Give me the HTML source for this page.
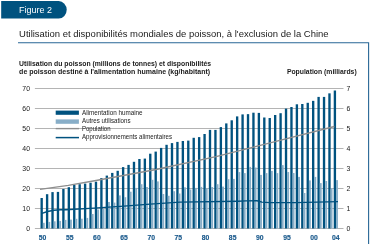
<!DOCTYPE html><html><head><meta charset="utf-8"><style>html,body{margin:0;padding:0;background:#fff;}svg{display:block;will-change:transform;}text{font-family:"Liberation Sans",sans-serif;}</style></head><body>
<svg width="372" height="244" viewBox="0 0 372 244">
<path d="M1.2 1.1 H58.7 A8.0 8.7 0 0 1 66.7 9.8 A8.0 8.7 0 0 1 58.7 18.5 H1.2 Z" fill="#00527f"/>
<text x="19.1" y="12.75" font-size="9" fill="#fff" textLength="33" lengthAdjust="spacingAndGlyphs">Figure 2</text>
<text x="19.1" y="36.8" font-size="9" fill="#1a1a1a" textLength="309.5" lengthAdjust="spacingAndGlyphs">Utilisation et disponibilités mondiales de poisson, à l'exclusion de la Chine</text>
<path d="M18 42.8 H368.6 V244" fill="none" stroke="#286796" stroke-width="1.1"/>
<text x="19.1" y="66.2" font-size="6.7" font-weight="bold" fill="#1a1a1a" textLength="192" lengthAdjust="spacingAndGlyphs">Utilisation du poisson (millions de tonnes) et disponibilités</text>
<text x="19.1" y="73.6" font-size="6.7" font-weight="bold" fill="#1a1a1a" textLength="191" lengthAdjust="spacingAndGlyphs">de poisson destiné à l'alimentation humaine (kg/habitant)</text>
<text x="286.9" y="74" font-size="6.7" font-weight="bold" fill="#1a1a1a" textLength="69.8" lengthAdjust="spacingAndGlyphs">Population (milliards)</text>
<line x1="34.9" y1="228.5" x2="343.5" y2="228.5" stroke="#b4b4b4" stroke-width="1"/>
<text x="30" y="231.0" font-size="6.9" fill="#1a1a1a" text-anchor="end">0</text>
<text x="346.5" y="230.9" font-size="6.9" fill="#1a1a1a">0</text>
<line x1="34.9" y1="208.5" x2="343.5" y2="208.5" stroke="#b4b4b4" stroke-width="1"/>
<text x="30" y="211.0" font-size="6.9" fill="#1a1a1a" text-anchor="end">10</text>
<text x="346.5" y="210.9" font-size="6.9" fill="#1a1a1a">1</text>
<line x1="34.9" y1="188.5" x2="343.5" y2="188.5" stroke="#b4b4b4" stroke-width="1"/>
<text x="30" y="191.0" font-size="6.9" fill="#1a1a1a" text-anchor="end">20</text>
<text x="346.5" y="190.9" font-size="6.9" fill="#1a1a1a">2</text>
<line x1="34.9" y1="168.5" x2="343.5" y2="168.5" stroke="#b4b4b4" stroke-width="1"/>
<text x="30" y="171.0" font-size="6.9" fill="#1a1a1a" text-anchor="end">30</text>
<text x="346.5" y="170.9" font-size="6.9" fill="#1a1a1a">3</text>
<line x1="34.9" y1="148.5" x2="343.5" y2="148.5" stroke="#b4b4b4" stroke-width="1"/>
<text x="30" y="151.0" font-size="6.9" fill="#1a1a1a" text-anchor="end">40</text>
<text x="346.5" y="150.9" font-size="6.9" fill="#1a1a1a">4</text>
<line x1="34.9" y1="128.5" x2="343.5" y2="128.5" stroke="#b4b4b4" stroke-width="1"/>
<text x="30" y="131.0" font-size="6.9" fill="#1a1a1a" text-anchor="end">50</text>
<text x="346.5" y="130.9" font-size="6.9" fill="#1a1a1a">5</text>
<line x1="34.9" y1="108.5" x2="343.5" y2="108.5" stroke="#b4b4b4" stroke-width="1"/>
<text x="30" y="111.0" font-size="6.9" fill="#1a1a1a" text-anchor="end">60</text>
<text x="346.5" y="110.9" font-size="6.9" fill="#1a1a1a">6</text>
<line x1="34.9" y1="88.5" x2="343.5" y2="88.5" stroke="#b4b4b4" stroke-width="1"/>
<text x="30" y="91.0" font-size="6.9" fill="#1a1a1a" text-anchor="end">70</text>
<text x="346.5" y="90.9" font-size="6.9" fill="#1a1a1a">7</text>
<rect x="40.50" y="198.0" width="2.35" height="30.50" fill="#00527f"/>
<rect x="42.85" y="222.8" width="1.9" height="5.70" fill="#88aec8"/>
<rect x="45.93" y="194.2" width="2.35" height="34.30" fill="#00527f"/>
<rect x="48.28" y="221.9" width="1.9" height="6.60" fill="#88aec8"/>
<rect x="51.36" y="192.1" width="2.35" height="36.40" fill="#00527f"/>
<rect x="53.71" y="221.3" width="1.9" height="7.20" fill="#88aec8"/>
<rect x="56.79" y="191.9" width="2.35" height="36.60" fill="#00527f"/>
<rect x="59.14" y="220.9" width="1.9" height="7.60" fill="#88aec8"/>
<rect x="62.22" y="189.0" width="2.35" height="39.50" fill="#00527f"/>
<rect x="64.57" y="219.9" width="1.9" height="8.60" fill="#88aec8"/>
<rect x="67.65" y="187.2" width="2.35" height="41.30" fill="#00527f"/>
<rect x="70.00" y="219.6" width="1.9" height="8.90" fill="#88aec8"/>
<rect x="73.08" y="185.0" width="2.35" height="43.50" fill="#00527f"/>
<rect x="75.43" y="218.8" width="1.9" height="9.70" fill="#88aec8"/>
<rect x="78.51" y="184.2" width="2.35" height="44.30" fill="#00527f"/>
<rect x="80.86" y="218.7" width="1.9" height="9.80" fill="#88aec8"/>
<rect x="83.94" y="183.6" width="2.35" height="44.90" fill="#00527f"/>
<rect x="86.29" y="217.9" width="1.9" height="10.60" fill="#88aec8"/>
<rect x="89.37" y="182.7" width="2.35" height="45.80" fill="#00527f"/>
<rect x="91.72" y="214.0" width="1.9" height="14.50" fill="#88aec8"/>
<rect x="94.80" y="181.7" width="2.35" height="46.80" fill="#00527f"/>
<rect x="97.15" y="209.5" width="1.9" height="19.00" fill="#88aec8"/>
<rect x="100.23" y="178.1" width="2.35" height="50.40" fill="#00527f"/>
<rect x="102.58" y="208.8" width="1.9" height="19.70" fill="#88aec8"/>
<rect x="105.66" y="175.6" width="2.35" height="52.90" fill="#00527f"/>
<rect x="108.01" y="202.0" width="1.9" height="26.50" fill="#88aec8"/>
<rect x="111.09" y="172.9" width="2.35" height="55.60" fill="#00527f"/>
<rect x="113.44" y="202.6" width="1.9" height="25.90" fill="#88aec8"/>
<rect x="116.52" y="170.8" width="2.35" height="57.70" fill="#00527f"/>
<rect x="118.87" y="195.4" width="1.9" height="33.10" fill="#88aec8"/>
<rect x="121.95" y="167.1" width="2.35" height="61.40" fill="#00527f"/>
<rect x="124.30" y="197.2" width="1.9" height="31.30" fill="#88aec8"/>
<rect x="127.38" y="164.9" width="2.35" height="63.60" fill="#00527f"/>
<rect x="129.73" y="191.7" width="1.9" height="36.80" fill="#88aec8"/>
<rect x="132.81" y="161.8" width="2.35" height="66.70" fill="#00527f"/>
<rect x="135.16" y="187.9" width="1.9" height="40.60" fill="#88aec8"/>
<rect x="138.24" y="159.0" width="2.35" height="69.50" fill="#00527f"/>
<rect x="140.59" y="184.2" width="1.9" height="44.30" fill="#88aec8"/>
<rect x="143.67" y="158.6" width="2.35" height="69.90" fill="#00527f"/>
<rect x="146.02" y="187.0" width="1.9" height="41.50" fill="#88aec8"/>
<rect x="149.10" y="153.7" width="2.35" height="74.80" fill="#00527f"/>
<rect x="151.45" y="179.8" width="1.9" height="48.70" fill="#88aec8"/>
<rect x="154.53" y="151.6" width="2.35" height="76.90" fill="#00527f"/>
<rect x="156.88" y="181.4" width="1.9" height="47.10" fill="#88aec8"/>
<rect x="159.96" y="147.9" width="2.35" height="80.60" fill="#00527f"/>
<rect x="162.31" y="194.0" width="1.9" height="34.50" fill="#88aec8"/>
<rect x="165.39" y="144.8" width="2.35" height="83.70" fill="#00527f"/>
<rect x="167.74" y="195.8" width="1.9" height="32.70" fill="#88aec8"/>
<rect x="170.82" y="143.1" width="2.35" height="85.40" fill="#00527f"/>
<rect x="173.17" y="191.2" width="1.9" height="37.30" fill="#88aec8"/>
<rect x="176.25" y="141.9" width="2.35" height="86.60" fill="#00527f"/>
<rect x="178.60" y="193.5" width="1.9" height="35.00" fill="#88aec8"/>
<rect x="181.68" y="141.0" width="2.35" height="87.50" fill="#00527f"/>
<rect x="184.03" y="187.3" width="1.9" height="41.20" fill="#88aec8"/>
<rect x="187.11" y="140.6" width="2.35" height="87.90" fill="#00527f"/>
<rect x="189.46" y="189.5" width="1.9" height="39.00" fill="#88aec8"/>
<rect x="192.54" y="137.8" width="2.35" height="90.70" fill="#00527f"/>
<rect x="194.89" y="187.9" width="1.9" height="40.60" fill="#88aec8"/>
<rect x="197.97" y="137.1" width="2.35" height="91.40" fill="#00527f"/>
<rect x="200.32" y="186.9" width="1.9" height="41.60" fill="#88aec8"/>
<rect x="203.40" y="134.0" width="2.35" height="94.50" fill="#00527f"/>
<rect x="205.75" y="188.2" width="1.9" height="40.30" fill="#88aec8"/>
<rect x="208.83" y="129.9" width="2.35" height="98.60" fill="#00527f"/>
<rect x="211.18" y="187.0" width="1.9" height="41.50" fill="#88aec8"/>
<rect x="214.26" y="129.9" width="2.35" height="98.60" fill="#00527f"/>
<rect x="216.61" y="184.2" width="1.9" height="44.30" fill="#88aec8"/>
<rect x="219.69" y="127.1" width="2.35" height="101.40" fill="#00527f"/>
<rect x="222.04" y="186.6" width="1.9" height="41.90" fill="#88aec8"/>
<rect x="225.12" y="123.4" width="2.35" height="105.10" fill="#00527f"/>
<rect x="227.47" y="179.2" width="1.9" height="49.30" fill="#88aec8"/>
<rect x="230.55" y="120.3" width="2.35" height="108.20" fill="#00527f"/>
<rect x="232.90" y="178.9" width="1.9" height="49.60" fill="#88aec8"/>
<rect x="235.98" y="116.4" width="2.35" height="112.10" fill="#00527f"/>
<rect x="238.33" y="172.1" width="1.9" height="56.40" fill="#88aec8"/>
<rect x="241.41" y="114.4" width="2.35" height="114.10" fill="#00527f"/>
<rect x="243.76" y="173.1" width="1.9" height="55.40" fill="#88aec8"/>
<rect x="246.84" y="114.15" width="2.35" height="114.35" fill="#00527f"/>
<rect x="249.19" y="166.9" width="1.9" height="61.60" fill="#88aec8"/>
<rect x="252.27" y="112.7" width="2.35" height="115.80" fill="#00527f"/>
<rect x="254.62" y="167.5" width="1.9" height="61.00" fill="#88aec8"/>
<rect x="257.70" y="112.9" width="2.35" height="115.60" fill="#00527f"/>
<rect x="260.05" y="174.9" width="1.9" height="53.60" fill="#88aec8"/>
<rect x="263.13" y="117.5" width="2.35" height="111.00" fill="#00527f"/>
<rect x="265.48" y="173.1" width="1.9" height="55.40" fill="#88aec8"/>
<rect x="268.56" y="118.0" width="2.35" height="110.50" fill="#00527f"/>
<rect x="270.91" y="170.9" width="1.9" height="57.60" fill="#88aec8"/>
<rect x="273.99" y="115.0" width="2.35" height="113.50" fill="#00527f"/>
<rect x="276.34" y="173.1" width="1.9" height="55.40" fill="#88aec8"/>
<rect x="279.42" y="113.2" width="2.35" height="115.30" fill="#00527f"/>
<rect x="281.77" y="165.1" width="1.9" height="63.40" fill="#88aec8"/>
<rect x="284.85" y="108.6" width="2.35" height="119.90" fill="#00527f"/>
<rect x="287.20" y="172.0" width="1.9" height="56.50" fill="#88aec8"/>
<rect x="290.28" y="107.0" width="2.35" height="121.50" fill="#00527f"/>
<rect x="292.63" y="173.0" width="1.9" height="55.50" fill="#88aec8"/>
<rect x="295.71" y="104.3" width="2.35" height="124.20" fill="#00527f"/>
<rect x="298.06" y="176.9" width="1.9" height="51.60" fill="#88aec8"/>
<rect x="301.14" y="104.0" width="2.35" height="124.50" fill="#00527f"/>
<rect x="303.49" y="193.0" width="1.9" height="35.50" fill="#88aec8"/>
<rect x="306.57" y="102.8" width="2.35" height="125.70" fill="#00527f"/>
<rect x="308.92" y="180.4" width="1.9" height="48.10" fill="#88aec8"/>
<rect x="312.00" y="100.85" width="2.35" height="127.65" fill="#00527f"/>
<rect x="314.35" y="176.9" width="1.9" height="51.60" fill="#88aec8"/>
<rect x="317.43" y="96.9" width="2.35" height="131.60" fill="#00527f"/>
<rect x="319.78" y="183.1" width="1.9" height="45.40" fill="#88aec8"/>
<rect x="322.86" y="96.9" width="2.35" height="131.60" fill="#00527f"/>
<rect x="325.21" y="181.0" width="1.9" height="47.50" fill="#88aec8"/>
<rect x="328.29" y="93.35" width="2.35" height="135.15" fill="#00527f"/>
<rect x="330.64" y="188.4" width="1.9" height="40.10" fill="#88aec8"/>
<rect x="333.72" y="90.5" width="2.35" height="138.00" fill="#00527f"/>
<rect x="336.07" y="180.1" width="1.9" height="48.40" fill="#88aec8"/>
<polyline points="42,213.3 47.5,211.5 54,210.2 60.6,209.8 66,209.7 94,208.1 124,206.1 150,204.1 180,202.1 238,201.2 246,200.9 257,200.8 262,202.1 270,202.6 296,202.6 338,201.6" fill="none" stroke="#00527f" stroke-width="1.4" stroke-linejoin="round"/>
<polyline points="40,189.4 68.3,185.3 96,180.5 156,169.5 216,156.6 276,141.4 334.4,126.5" fill="none" stroke="#8e8e8e" stroke-width="1.3" stroke-linejoin="round"/>
<rect x="55.7" y="110.6" width="23.2" height="4.2" fill="#00527f"/>
<rect x="55.7" y="119.4" width="23.2" height="4.4" fill="#88aec8"/>
<line x1="55.7" y1="128.6" x2="79" y2="128.6" stroke="#8e8e8e" stroke-width="1.4"/>
<line x1="55.7" y1="137.6" x2="79" y2="137.6" stroke="#00527f" stroke-width="1.5"/>
<text x="82" y="115" font-size="6.3" fill="#1a1a1a" textLength="60.6" lengthAdjust="spacingAndGlyphs">Alimentation humaine</text>
<text x="82" y="122.6" font-size="6.3" fill="#1a1a1a" textLength="48.5" lengthAdjust="spacingAndGlyphs">Autres utilisations</text>
<text x="82" y="130.6" font-size="6.3" fill="#1a1a1a" textLength="28.5" lengthAdjust="spacingAndGlyphs">Population</text>
<text x="82" y="138.7" font-size="6.3" fill="#1a1a1a" textLength="90" lengthAdjust="spacingAndGlyphs">Approvisionnements alimentaires</text>
<text x="42.60" y="239.8" font-size="6.8" font-weight="bold" fill="#17578a" stroke="#17578a" stroke-width="0.15" text-anchor="middle">50</text>
<text x="69.75" y="239.8" font-size="6.8" font-weight="bold" fill="#17578a" stroke="#17578a" stroke-width="0.15" text-anchor="middle">55</text>
<text x="96.90" y="239.8" font-size="6.8" font-weight="bold" fill="#17578a" stroke="#17578a" stroke-width="0.15" text-anchor="middle">60</text>
<text x="124.05" y="239.8" font-size="6.8" font-weight="bold" fill="#17578a" stroke="#17578a" stroke-width="0.15" text-anchor="middle">65</text>
<text x="151.20" y="239.8" font-size="6.8" font-weight="bold" fill="#17578a" stroke="#17578a" stroke-width="0.15" text-anchor="middle">70</text>
<text x="178.35" y="239.8" font-size="6.8" font-weight="bold" fill="#17578a" stroke="#17578a" stroke-width="0.15" text-anchor="middle">75</text>
<text x="205.50" y="239.8" font-size="6.8" font-weight="bold" fill="#17578a" stroke="#17578a" stroke-width="0.15" text-anchor="middle">80</text>
<text x="232.65" y="239.8" font-size="6.8" font-weight="bold" fill="#17578a" stroke="#17578a" stroke-width="0.15" text-anchor="middle">85</text>
<text x="259.80" y="239.8" font-size="6.8" font-weight="bold" fill="#17578a" stroke="#17578a" stroke-width="0.15" text-anchor="middle">90</text>
<text x="286.95" y="239.8" font-size="6.8" font-weight="bold" fill="#17578a" stroke="#17578a" stroke-width="0.15" text-anchor="middle">95</text>
<text x="314.10" y="239.8" font-size="6.8" font-weight="bold" fill="#17578a" stroke="#17578a" stroke-width="0.15" text-anchor="middle">00</text>
<text x="335.82" y="239.8" font-size="6.8" font-weight="bold" fill="#17578a" stroke="#17578a" stroke-width="0.15" text-anchor="middle">04</text>
</svg></body></html>
